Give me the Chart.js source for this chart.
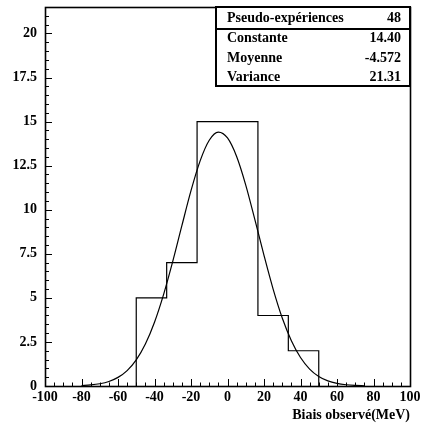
<!DOCTYPE html>
<html lang="fr">
<head>
  <meta charset="UTF-8">
  <title>Biais observé</title>
  <script src="https://cdn.jsdelivr.net/npm/chart.js"></script>
  <style>
    body { margin: 0; background: #fff; }
  </style>
</head>
<body>
  <canvas id="biasChart" width="421" height="424"></canvas>

  <script>
    // histogram bins (edges) and counts
    const binEdges = [-50, -33.33, -16.67, 0, 16.67, 33.33, 50];
    const binCounts = [5, 7, 15, 15, 4, 2];

    // gaussian fit curve
    const fitX = [-80, -75, -70, -65, -60, -55, -50, -45, -40, -35, -30, -25, -20, -15, -10, -5,
                  0, 5, 10, 15, 20, 25, 30, 35, 40, 45, 50, 55, 60, 65, 70, 75];
    const fitY = [0.027, 0.061, 0.129, 0.258, 0.489, 0.876, 1.483, 2.380, 3.616, 5.196, 7.066, 9.094,
                  11.08, 12.77, 13.94, 14.40, 14.07, 13.02, 11.40, 9.44, 7.41, 5.50, 3.86, 2.57,
                  1.615, 0.962, 0.542, 0.289, 0.146, 0.070, 0.032, 0.014];

    // stats box
    const statsLabels = ['Pseudo-expériences', 'Constante', 'Moyenne', 'Variance'];
    const statsValues = ['48', '14.40', '-4.572', '21.31'];

    const FONT = '"Liberation Serif", "Times New Roman", serif';

    // outline of the histogram as a stepped line
    const histPoints = [{ x: binEdges[0], y: 0 }];
    binCounts.forEach((c, i) => histPoints.push({ x: binEdges[i], y: c }));
    histPoints.push({ x: binEdges[binEdges.length - 1], y: 0 });

    const fitPoints = fitX.map((x, i) => ({ x: x, y: fitY[i] }));

    // frame, inward ticks and stats box
    const rootStyle = {
      id: 'rootStyle',
      afterDraw(chart) {
        const ctx = chart.ctx;
        const a = chart.chartArea;
        const xs = chart.scales.x, ys = chart.scales.y;
        ctx.save();
        ctx.strokeStyle = '#000';
        ctx.lineWidth = 1.6;
        ctx.strokeRect(a.left + 0.5, a.top + 0.5, a.right - a.left, a.bottom - a.top);

        ctx.lineWidth = 1;
        ctx.beginPath();
        for (let v = -100; v <= 100; v += 5) {
          const px = Math.round(xs.getPixelForValue(v)) + 0.5;
          const len = v % 20 === 0 ? 7 : 3.5;
          ctx.moveTo(px, a.bottom);
          ctx.lineTo(px, a.bottom - len);
        }
        for (let k = 0; k <= 43; k++) {
          const v = k * 0.5;
          const py = Math.round(ys.getPixelForValue(v)) + 0.5;
          const len = k % 5 === 0 ? 7 : 4;
          ctx.moveTo(a.left, py);
          ctx.lineTo(a.left + len, py);
        }
        ctx.stroke();

        // stats box
        const bx = 216, by = 7, bw = a.right - 216, bh = 79;
        ctx.fillStyle = '#fff';
        ctx.fillRect(bx, by, bw, bh);
        ctx.lineWidth = 2;
        ctx.strokeRect(bx, by, bw, bh);
        ctx.beginPath();
        ctx.moveTo(bx, 29);
        ctx.lineTo(bx + bw, 29);
        ctx.stroke();

        ctx.fillStyle = '#000';
        ctx.font = 'bold 14px ' + FONT;
        ctx.textBaseline = 'middle';
        const rowY = [18.5, 38, 58, 77.5];
        statsLabels.forEach((lab, i) => {
          ctx.textAlign = 'left';
          ctx.fillText(lab, 227, rowY[i]);
          ctx.textAlign = 'right';
          ctx.fillText(statsValues[i], 401, rowY[i]);
        });
        ctx.restore();
      }
    };

    new Chart(document.getElementById('biasChart'), {
      type: 'line',
      data: {
        datasets: [
          {
            data: histPoints,
            stepped: 'before',
            borderColor: '#000',
            borderWidth: 1.2,
            pointRadius: 0,
            fill: false
          },
          {
            data: fitPoints,
            cubicInterpolationMode: 'monotone',
            borderColor: '#000',
            borderWidth: 1.2,
            pointRadius: 0,
            fill: false
          }
        ]
      },
      options: {
        responsive: false,
        animation: false,
        layout: { padding: { top: 7, right: 11, left: 0, bottom: 0 } },
        plugins: {
          legend: { display: false },
          tooltip: { enabled: false }
        },
        scales: {
          x: {
            type: 'linear',
            min: -100,
            max: 100,
            grid: { display: false, drawTicks: false },
            border: { display: false },
            ticks: {
              stepSize: 20,
              autoSkip: false,
              maxRotation: 0,
              padding: 3,
              color: '#000',
              font: { family: FONT, size: 14, weight: 'bold' }
            },
            title: {
              display: true,
              text: 'Biais observé(MeV)',
              align: 'end',
              color: '#000',
              padding: { top: 0, bottom: 0 },
              font: { family: FONT, size: 14, weight: 'bold' }
            },
            afterFit(s) {
              s.height = 38;
              s.paddingLeft = 0;
              s.paddingRight = 0;
            }
          },
          y: {
            min: 0,
            max: 21.5,
            grid: { display: false, drawTicks: false },
            border: { display: false },
            ticks: {
              stepSize: 2.5,
              includeBounds: false,
              padding: 8,
              color: '#000',
              font: { family: FONT, size: 14, weight: 'bold' }
            },
            afterFit(s) {
              s.width = 45;
              s.paddingTop = 0;
              s.paddingBottom = 0;
            }
          }
        }
      },
      plugins: [rootStyle]
    });
  </script>
</body>
</html>
